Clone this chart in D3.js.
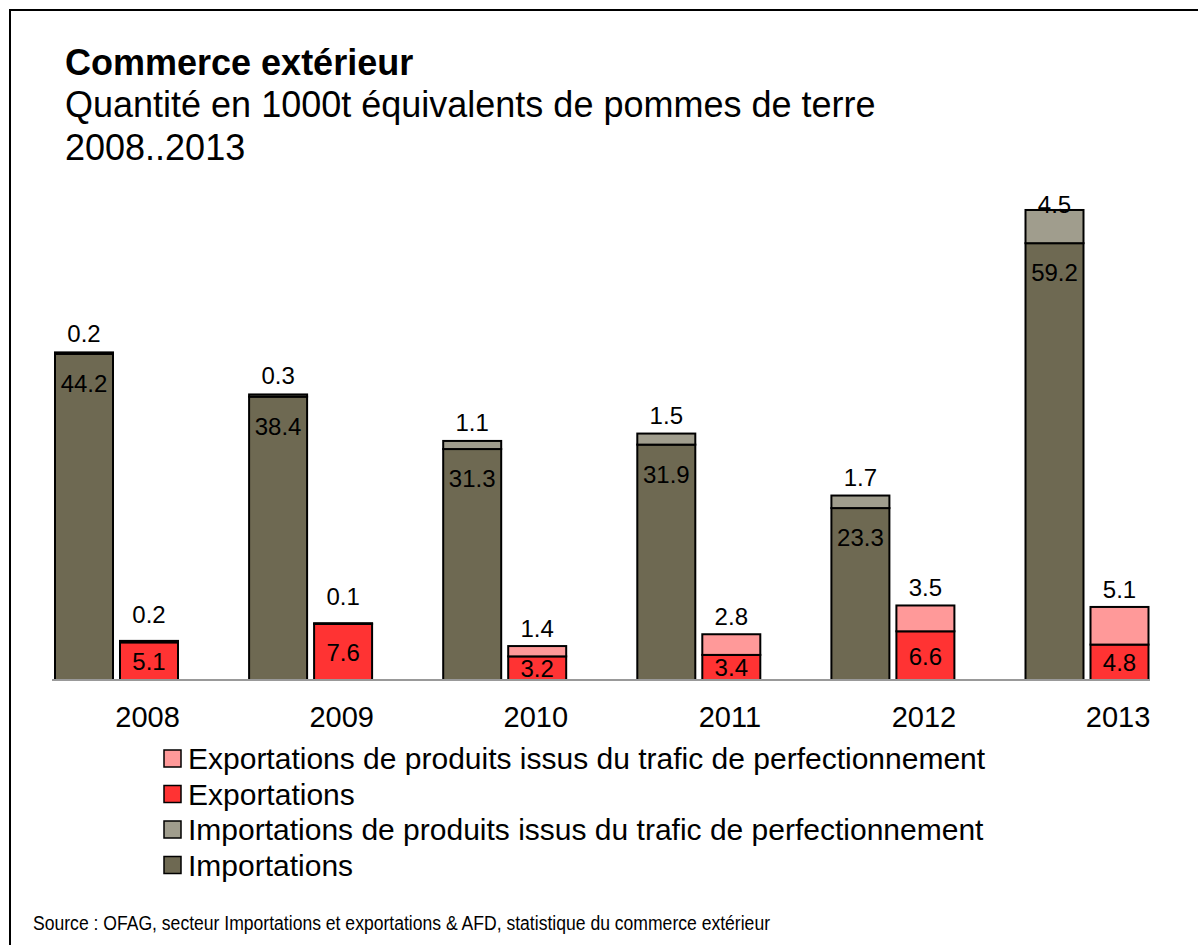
<!DOCTYPE html>
<html>
<head>
<meta charset="utf-8">
<script src="https://cdn.jsdelivr.net/npm/d3@7"></script>
<style>
  body { margin: 0; background: #fff; }
  svg { display: block; font-family: "Liberation Sans", Arial, sans-serif; }
</style>
</head>
<body>
<div id="svg-container"></div>
<script>
////////////////////////////  Data  ////////////////////////////
const years = ["2008", "2009", "2010", "2011", "2012", "2013"];
const importations = [44.2, 38.4, 31.3, 31.9, 23.3, 59.2];
const importationsTrafic = [0.2, 0.3, 1.1, 1.5, 1.7, 4.5];
const exportations = [5.1, 7.6, 3.2, 3.4, 6.6, 4.8];
const exportationsTrafic = [0.2, 0.1, 1.4, 2.8, 3.5, 5.1];

const legendLabels = [
  "Exportations de produits issus du trafic de perfectionnement",
  "Exportations",
  "Importations de produits issus du trafic de perfectionnement",
  "Importations",
];

const colors = {
  importations: "#6e6952",
  importationsTrafic: "#a09d8d",
  exportations: "#ff3333",
  exportationsTrafic: "#ff9999",
};

////////////////////////////  Init  ////////////////////////////
const width = 1198;
const height = 945;

const svg = d3
  .select("#svg-container")
  .append("svg")
  .attr("width", width)
  .attr("height", height);

// cadre
svg
  .append("rect")
  .attr("x", 10)
  .attr("y", 10)
  .attr("width", 1300)
  .attr("height", 1100)
  .attr("fill", "none")
  .attr("stroke", "#000")
  .attr("stroke-width", 2);

// titres
const titles = svg.append("g").attr("fill", "#000").style("font-size", "36px");
titles.append("text").attr("x", 65).attr("y", 75).style("font-weight", "bold").text("Commerce extérieur");
titles.append("text").attr("x", 65).attr("y", 117).text("Quantité en 1000t équivalents de pommes de terre");
titles.append("text").attr("x", 65).attr("y", 160).text("2008..2013");

// scales
const xScale = d3.scaleBand().domain(years).range([50.5, 50.5 + 6 * 194.1]);
const xSub = d3
  .scaleBand()
  .domain(["imp", "exp"])
  .range([4.5, 127.5])
  .paddingInner(0.1077);
const yScale = d3.scaleLinear().domain([0, 70]).range([680, 163.5]);

const rows = years.map((y, i) => ({
  year: y,
  importations: importations[i],
  importationsTrafic: importationsTrafic[i],
  exportations: exportations[i],
  exportationsTrafic: exportationsTrafic[i],
}));

const groups = [
  { key: "imp", keys: ["importations", "importationsTrafic"] },
  { key: "exp", keys: ["exportations", "exportationsTrafic"] },
];

groups.forEach((g) => {
  const series = d3.stack().keys(g.keys)(rows);

  const gBars = svg.append("g").attr("class", `bars-${g.key}`);
  series.forEach((s) => {
    gBars
      .selectAll(`.bar-${s.key}`)
      .data(s)
      .enter()
      .append("rect")
      .attr("class", `bar-${s.key}`)
      .attr("x", (d) => xScale(d.data.year) + xSub(g.key))
      .attr("y", (d) => yScale(d[1]))
      .attr("width", xSub.bandwidth())
      .attr("height", (d) => yScale(d[0]) - yScale(d[1]))
      .attr("fill", colors[s.key])
      .attr("stroke", "#000")
      .attr("stroke-width", 2);
  });

  // étiquettes
  const lower = series[0];
  const upper = series[1];
  const gLabels = svg
    .append("g")
    .attr("text-anchor", "middle")
    .style("font-size", "24px")
    .attr("fill", "#000");

  gLabels
    .selectAll(".lab-lower")
    .data(lower)
    .enter()
    .append("text")
    .attr("x", (d) => xScale(d.data.year) + xSub(g.key) + xSub.bandwidth() / 2)
    .attr("y", (d) => {
      const top = yScale(d[1]);
      const bottom = yScale(d[0]);
      if (g.key === "imp") return top + 38;
      return (top + bottom) / 2 + 9;
    })
    .text((d) => d.data[lower.key].toFixed(1));

  gLabels
    .selectAll(".lab-upper")
    .data(upper)
    .enter()
    .append("text")
    .attr("x", (d) => xScale(d.data.year) + xSub(g.key) + xSub.bandwidth() / 2)
    .attr("y", (d) => {
      const top = yScale(d[1]);
      const lowerTop = yScale(d[0]);
      let y = g.key === "imp" ? top - 10 : Math.min(top - 9, lowerTop - 19);
      return Math.max(y, 213);
    })
    .text((d) => d.data[upper.key].toFixed(1));
});

// axe
svg
  .append("line")
  .attr("x1", 52)
  .attr("x2", 1150)
  .attr("y1", yScale(0))
  .attr("y2", yScale(0))
  .attr("stroke", "#999")
  .attr("stroke-width", 2);

const xAxis = d3.axisBottom(xScale).tickSize(0).tickPadding(26);
svg
  .append("g")
  .attr("class", "x-axis")
  .attr("transform", `translate(0, ${yScale(0)})`)
  .call(xAxis)
  .call((g) => g.select(".domain").remove())
  .call((g) =>
    g
      .selectAll("text")
      .attr("fill", "#000")
      .style("font-size", "29px")
      .style("font-family", '"Liberation Sans", Arial, sans-serif')
  );

// légende
const legendKeys = ["exportationsTrafic", "exportations", "importationsTrafic", "importations"];
const legend = svg
  .append("g")
  .selectAll("g")
  .data(legendKeys)
  .enter()
  .append("g")
  .attr("transform", (d, i) => `translate(164, ${769 + i * 35.5})`);

legend
  .append("rect")
  .attr("x", 0)
  .attr("y", -19)
  .attr("width", 17)
  .attr("height", 17)
  .attr("fill", (d) => colors[d])
  .attr("stroke", "#000")
  .attr("stroke-width", 1.5);

legend
  .append("text")
  .attr("x", 24)
  .attr("y", 0)
  .style("font-size", "30px")
  .attr("fill", "#000")
  .text((d, i) => legendLabels[i]);

// source
svg
  .append("text")
  .attr("x", 33)
  .attr("y", 930)
  .style("font-size", "20px")
  .style("font-family", '"Liberation Sans Narrow", "Arial Narrow", "Liberation Sans", sans-serif')
  .attr("textLength", 737)
  .attr("lengthAdjust", "spacingAndGlyphs")
  .attr("fill", "#000")
  .text("Source : OFAG, secteur Importations et exportations & AFD, statistique du commerce extérieur");
</script>
</body>
</html>
